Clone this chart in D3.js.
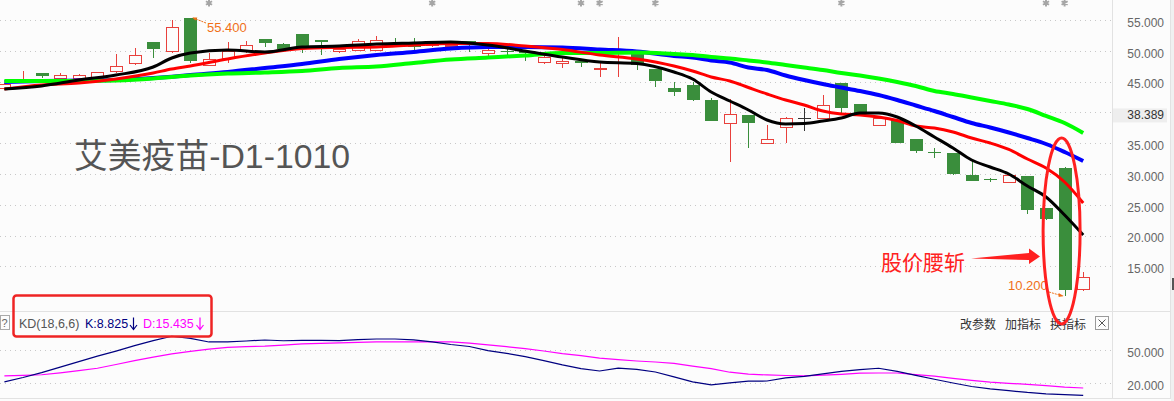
<!DOCTYPE html>
<html>
<head>
<meta charset="utf-8">
<script src="https://cdn.jsdelivr.net/npm/d3@7"></script>
<style>
  html, body { margin: 0; padding: 0; background: #fcfcfc; overflow: hidden; }
  svg { display: block; }
  text { font-family: "Liberation Sans", "Noto Sans CJK SC", sans-serif; }
</style>
</head>
<body>
<svg id="chart" width="1174" height="401"></svg>
<script>
// ---- daily candles, index -1 .. 57 ----
const candleIdx = d3.range(-1, 58);
const opens  = [43.96,44.94,46.40,45.58,45.58,45.58,46.56,47.86,51.43,49.81,55.40,47.69,48.83,49.81,51.92,51.10,52.73,51.75,49.81,49.97,
                49.97,51.27,51.10,50.78,50.62,51.59,49.64,49.97,49.97,48.02,47.86,48.39,46.96,47.94,49.64,47.05,43.96,44.45,42.01,38.12,
                39.58,35.03,37.47,39.09,39.09,44.77,41.36,37.95,38.77,35.68,33.57,33.41,29.84,29.11,28.54,29.68,24.48,30.97,11.33];
const highs  = [44.77,46.72,46.40,46.40,46.23,46.56,49.48,50.45,51.43,55.00,55.40,49.64,51.43,51.59,51.92,51.20,52.80,51.75,50.45,51.92,
                52.40,52.08,52.08,51.43,51.27,51.59,50.62,50.45,50.10,49.20,48.83,48.50,48.18,52.24,49.70,47.10,44.94,44.94,42.34,42.18,
                39.60,37.95,39.20,40.71,42.82,44.80,41.40,39.20,38.80,35.70,34.22,33.45,32.11,29.35,29.70,29.70,24.50,31.14,14.09];
const lows   = [43.64,44.77,45.58,45.42,45.42,45.50,46.40,47.69,48.83,49.64,48.02,47.60,48.02,49.64,50.62,50.10,49.64,49.32,49.64,49.90,
                49.90,50.78,50.13,50.62,50.45,49.81,48.99,49.32,48.34,47.90,47.21,47.37,45.75,45.75,46.88,44.12,42.66,41.85,38.60,31.95,
                34.22,35.00,35.03,36.98,39.00,39.90,39.80,37.90,35.00,33.41,32.60,29.84,28.80,28.70,28.50,23.51,22.60,10.20,11.00];
const closes = [44.45,45.26,45.91,45.91,46.07,46.40,47.53,49.16,50.29,53.86,48.34,48.51,49.81,50.94,51.27,50.29,50.78,51.43,50.29,51.59,
                51.75,50.94,50.62,51.10,50.94,51.27,49.97,49.89,49.64,48.99,48.26,48.07,47.05,48.02,47.69,45.10,43.31,42.01,38.60,39.58,
                38.28,35.52,39.09,39.09,41.20,40.71,39.90,39.09,35.03,33.73,33.49,30.00,28.86,29.03,29.68,24.16,22.69,11.17,13.12];

// ---- moving averages, sampled at these candle indices ----
const maIdx = [-1,1,3,5,7,8,9,11,13,15,17,19,21,23,25,27,29,31,33,35,36,37,38,39,40,41,42,43,44,45,46,47,48,49,50,51,52,53,54,55,56,57];
const ma5  = [43.80,44.29,45.26,46.07,47.37,48.83,49.64,50.13,49.81,50.62,50.78,51.10,51.27,51.43,50.94,49.97,48.99,48.18,47.94,46.56,
              45.42,43.31,41.85,40.39,38.77,38.12,38.20,38.60,39.09,39.90,39.90,39.25,37.79,36.01,34.22,32.27,31.14,30.00,28.05,26.27,23.34,20.10];
const ma10 = [43.80,44.45,44.77,45.42,46.40,47.05,47.53,48.67,49.64,50.37,50.54,50.62,50.94,51.19,51.19,50.78,50.21,49.32,48.67,47.53,
              46.72,45.75,45.10,44.04,42.99,42.01,41.20,40.23,39.74,39.58,39.25,38.69,37.79,37.47,36.82,35.84,35.03,33.98,32.44,30.97,28.70,25.29];
const ma20 = [44.94,45.10,45.18,45.26,45.58,45.80,46.07,46.56,47.21,47.86,48.67,49.32,49.81,50.37,50.62,50.62,50.54,50.21,49.89,49.16,
              48.91,48.43,48.10,47.29,46.88,45.99,45.26,44.61,44.04,43.47,42.82,42.01,41.12,40.23,39.25,38.28,37.55,36.74,35.84,34.87,33.57,32.11];
const ma30 = [45.10,45.10,45.10,45.18,45.50,45.75,45.99,46.31,46.48,46.72,47.21,47.45,48.02,48.59,48.91,49.24,49.64,49.64,49.72,49.48,
              49.32,48.99,48.75,48.43,48.10,47.69,47.29,46.88,46.40,45.99,45.50,44.94,44.29,43.47,42.99,42.42,41.85,41.28,40.55,39.42,38.28,36.66];

// ---- KD(18,6,6), one value per candle ----
const kValues = [21.0,25.0,29.5,34.5,39.5,44.5,49.0,54.0,58.5,62.5,60.5,57.3,57.3,58.2,59.1,58.4,58.8,58.7,58.5,59.5,
                 60.0,60.0,59.2,57.4,55.0,53.2,49.4,47.0,44.0,40.4,36.5,33.0,30.9,33.5,32.4,30.0,25.5,21.0,18.3,20.2,
                 21.7,21.8,24.6,26.0,28.3,30.6,32.2,33.4,30.5,26.9,23.4,20.0,16.8,14.7,13.0,11.4,10.2,9.4,8.825];
const dValues = [26.4,26.9,27.5,29.2,31.2,33.4,36.8,40.3,43.6,46.5,48.7,50.8,52.4,53.1,53.5,54.4,55.5,56.0,56.4,56.9,
                 57.3,57.3,57.3,57.3,57.3,56.2,54.7,53.0,51.3,49.1,46.7,44.8,42.7,41.2,40.0,39.1,37.8,35.4,33.1,29.8,
                 28.1,27.3,26.8,26.4,27.1,27.9,28.9,29.1,29.1,27.6,26.2,24.2,22.4,20.8,19.7,18.8,17.6,16.3,15.435];

// ---- axis ticks ----
const priceTicks = [55, 50, 45, 40, 35, 30, 25, 20, 15];
const priceTickLabels = ["55.000","50.000","45.000","38.389","35.000","30.000","25.000","20.000","15.000"];
const kdTicks = [50, 20];
const kdTickLabels = ["50.000", "20.000"];

// event pins along the top edge
const eventIdx = [10, 22, 30, 31, 34, 44, 55, 56];

const stockTitle = "艾美疫苗-D1-1010";
const noteText = "股价腰斩";
const highLabel = "55.400";
const lowLabel = "10.200";

// ---------------------------------------------------------------
const W = 1174, H = 401;
const BG = "#fcfcfc";
const UP = "#e8403c", DOWN = "#3a8e3c", FLAT = "#333333";
const svg = d3.select("#chart");

svg.append("rect").attr("width", W).attr("height", H).attr("fill", BG);

const x = d3.scaleLinear().domain([-1, 57]).range([4.4, 1083.2]);
const y = d3.scaleLinear().domain([15, 55]).range([266.4, 20]);
const kdY = d3.scaleLinear().domain([20, 50]).range([383, 350]);

const plotRight = 1111;

// panel frames
const frame = svg.append("g").attr("stroke", "#e2e2e2").attr("stroke-width", 1).attr("shape-rendering", "crispEdges");
frame.append("line").attr("x1", 0).attr("x2", 1170).attr("y1", 311.5).attr("y2", 311.5);
frame.append("line").attr("x1", 0).attr("x2", 1170).attr("y1", 398.5).attr("y2", 398.5);
frame.append("line").attr("x1", 1112.5).attr("x2", 1112.5).attr("y1", 0).attr("y2", 399);
frame.append("line").attr("x1", 1170.5).attr("x2", 1170.5).attr("y1", 0).attr("y2", 399);
svg.append("rect").attr("x", 1171).attr("y", 0).attr("width", 3).attr("height", H).attr("fill", "#f0f0f0");

// dotted grid
const grid = svg.append("g").attr("stroke", "#c8c8c8").attr("stroke-dasharray", "1,4").attr("shape-rendering", "crispEdges");
grid.selectAll("line.p").data(priceTicks).join("line")
  .attr("x1", 0).attr("x2", plotRight)
  .attr("y1", d => Math.round(y(d)) + 0.5).attr("y2", d => Math.round(y(d)) + 0.5);
grid.selectAll("line.k").data(kdTicks).join("line")
  .attr("x1", 0).attr("x2", plotRight)
  .attr("y1", d => Math.round(kdY(d)) + 0.5).attr("y2", d => Math.round(kdY(d)) + 0.5);

// right-hand price axis
const priceAxis = d3.axisRight(y).tickValues(priceTicks).tickSize(0)
  .tickFormat((d, i) => priceTickLabels[i]);
const pa = svg.append("g").attr("transform", "translate(1164,2.5)").call(priceAxis);
pa.select(".domain").remove();
pa.selectAll("text").attr("x", 0).attr("text-anchor", "end")
  .attr("font-size", 12).attr("fill", "#666").attr("font-family", "Liberation Sans, sans-serif");
// the current-price label sits on a shaded chip
pa.selectAll(".tick").filter(d => d === 40).insert("rect", "text")
  .attr("x", -51).attr("y", -7).attr("width", 54).attr("height", 14).attr("fill", "#eeeeee");
pa.selectAll(".tick").filter(d => d === 40).select("text").attr("fill", "#333");

const kdAxis = d3.axisRight(kdY).tickValues(kdTicks).tickSize(0)
  .tickFormat((d, i) => kdTickLabels[i]);
const ka = svg.append("g").attr("transform", "translate(1164,2.5)").call(kdAxis);
ka.select(".domain").remove();
ka.selectAll("text").attr("x", 0).attr("text-anchor", "end")
  .attr("font-size", 12).attr("fill", "#666").attr("font-family", "Liberation Sans, sans-serif");

// candles
const candles = candleIdx.map((i, k) => ({ i, o: opens[k], h: highs[k], l: lows[k], c: closes[k] }));
const colorOf = d => d.c > d.o ? UP : d.c < d.o ? DOWN : FLAT;
const cg = svg.append("g").attr("shape-rendering", "crispEdges");
const cc = cg.selectAll("g").data(candles).join("g");
cc.append("line")
  .attr("x1", d => Math.round(x(d.i)) + 0.5).attr("x2", d => Math.round(x(d.i)) + 0.5)
  .attr("y1", d => y(d.h)).attr("y2", d => y(d.l))
  .attr("stroke", colorOf).attr("stroke-width", 1);
cc.append("rect")
  .attr("x", d => Math.round(x(d.i)) - 6 + (d.c > d.o ? 0.5 : 0))
  .attr("width", d => d.c > d.o ? 12 : 13)
  .attr("y", d => Math.min(y(d.o), y(d.c)))
  .attr("height", d => Math.max(1, Math.abs(y(d.o) - y(d.c))))
  .attr("fill", d => d.c > d.o ? BG : colorOf(d))
  .attr("stroke", d => d.c > d.o ? UP : "none")
  .attr("stroke-width", 1);

// moving averages
const maLine = d3.line().x((d, k) => x(maIdx[k])).y(d => y(d)).curve(d3.curveMonotoneX);
const maSeries = [
  { v: ma20, color: "#0000ff", w: 4 },
  { v: ma30, color: "#00ff00", w: 4 },
  { v: ma10, color: "#ff0000", w: 3 },
  { v: ma5,  color: "#000000", w: 3 }
];
svg.append("g").selectAll("path").data(maSeries).join("path")
  .attr("d", s => maLine(s.v)).attr("fill", "none")
  .attr("stroke", s => s.color).attr("stroke-width", s => s.w);

// KD lines
const kdLine = d3.line().x((d, k) => x(candleIdx[k])).y(d => kdY(d));
svg.append("path").attr("d", kdLine(dValues)).attr("fill", "none").attr("stroke", "#ff00ff").attr("stroke-width", 1.2);
svg.append("path").attr("d", kdLine(kValues)).attr("fill", "none").attr("stroke", "#000080").attr("stroke-width", 1.2);

// event pins
svg.append("g").selectAll("path").data(eventIdx).join("path")
  .attr("transform", i => `translate(${x(i)},3)`)
  .attr("d", d3.symbol().type(d3.symbolAsterisk).size(34))
  .attr("fill", "none").attr("stroke", "#a6a6a6").attr("stroke-width", 2);

// high / low markers
const ORANGE = "#f07018";
const hiIdx = candles.find(d => d.h === d3.max(highs));
const loIdx = candles.find(d => d.l === d3.min(lows));
svg.append("line").attr("x1", 206).attr("y1", 23).attr("x2", x(hiIdx.i) + 3).attr("y2", y(hiIdx.h) + 0.5)
  .attr("stroke", ORANGE).attr("stroke-width", 1).attr("stroke-dasharray", "2,1");
svg.append("path").attr("d", `M${x(hiIdx.i) + 2},${y(hiIdx.h)} l5,0 l-2,3 z`).attr("fill", ORANGE);
svg.append("text").attr("x", 207).attr("y", 31.5).text(highLabel)
  .attr("font-size", 13).attr("fill", ORANGE);
svg.append("line").attr("x1", 1049).attr("y1", 292).attr("x2", x(loIdx.i) - 2).attr("y2", y(loIdx.l))
  .attr("stroke", ORANGE).attr("stroke-width", 1).attr("stroke-dasharray", "2,1");
svg.append("path").attr("d", `M${x(loIdx.i) - 1},${y(loIdx.l)} l-5,-3 l0,4 z`).attr("fill", ORANGE);
svg.append("text").attr("x", 1008).attr("y", 290).text(lowLabel)
  .attr("font-size", 13).attr("fill", ORANGE);

// stock title
svg.append("text").attr("x", 74).attr("y", 168).text(stockTitle)
  .attr("font-family", "Noto Sans CJK SC, sans-serif").attr("font-size", 33.8).attr("fill", "#555");

// KD legend
const legend = svg.append("g").attr("font-size", 12.5);
legend.append("rect").attr("x", 0.5).attr("y", 315.5).attr("width", 9).attr("height", 14)
  .attr("fill", "none").attr("stroke", "#aaa");
legend.append("text").attr("x", 1.5).attr("y", 327).text("?").attr("fill", "#666").attr("font-size", 11);
legend.append("text").attr("x", 19).attr("y", 327.5).text("KD(18,6,6)").attr("fill", "#555");
legend.append("text").attr("x", 85).attr("y", 327.5).text("K:" + d3.format(".3f")(kValues[kValues.length - 1])).attr("fill", "#000080");
legend.append("text").attr("x", 143).attr("y", 327.5).text("D:" + d3.format(".3f")(dValues[dValues.length - 1])).attr("fill", "#ff00ff");
// falling-value arrows after each reading
[[133.5, "#000080"], [200, "#ff00ff"]].forEach(([ax, col]) =>
  legend.append("path")
    .attr("d", `M${ax},317.5 V329.5 M${ax - 3.5},325 L${ax},329.5 L${ax + 3.5},325`)
    .attr("fill", "none").attr("stroke", col).attr("stroke-width", 1.2));

// panel buttons
const btns = svg.append("g").attr("font-family", "Noto Sans CJK SC, sans-serif").attr("font-size", 12).attr("fill", "#333");
[["改参数", 960], ["加指标", 1005], ["换指标", 1050]].forEach(([t, bx]) =>
  btns.append("text").attr("x", bx).attr("y", 328.5).text(t));
svg.append("rect").attr("x", 1095.5).attr("y", 316.5).attr("width", 13).attr("height", 13)
  .attr("fill", "#fcfcfc").attr("stroke", "#999");
svg.append("path").attr("d", "M1098.5,319.5 L1105.5,326.5 M1105.5,319.5 L1098.5,326.5")
  .attr("stroke", "#555").attr("stroke-width", 1);

// scroll handle on the right edge
svg.append("rect").attr("x", 1172).attr("y", 278).attr("width", 2).attr("height", 12).attr("fill", "#555");

// callouts
const RED = "#ff2020";
svg.append("text").attr("x", 881).attr("y", 269.5).text(noteText)
  .attr("font-family", "Noto Sans CJK SC, sans-serif").attr("font-size", 21).attr("fill", RED);
svg.append("path")
  .attr("d", "M971,258.5 L1029,253 L1029,248.5 L1040,256.5 L1029,264 L1029,260 Z")
  .attr("fill", RED);
svg.append("ellipse").attr("cx", x(56) - 3).attr("cy", 231).attr("rx", 18.5).attr("ry", 93)
  .attr("fill", "none").attr("stroke", RED).attr("stroke-width", 3);
svg.append("rect").attr("x", 13.5).attr("y", 295.5).attr("width", 198).attr("height", 41).attr("rx", 3)
  .attr("fill", "none").attr("stroke", "#ee2424").attr("stroke-width", 2.5);
</script>
</body>
</html>
